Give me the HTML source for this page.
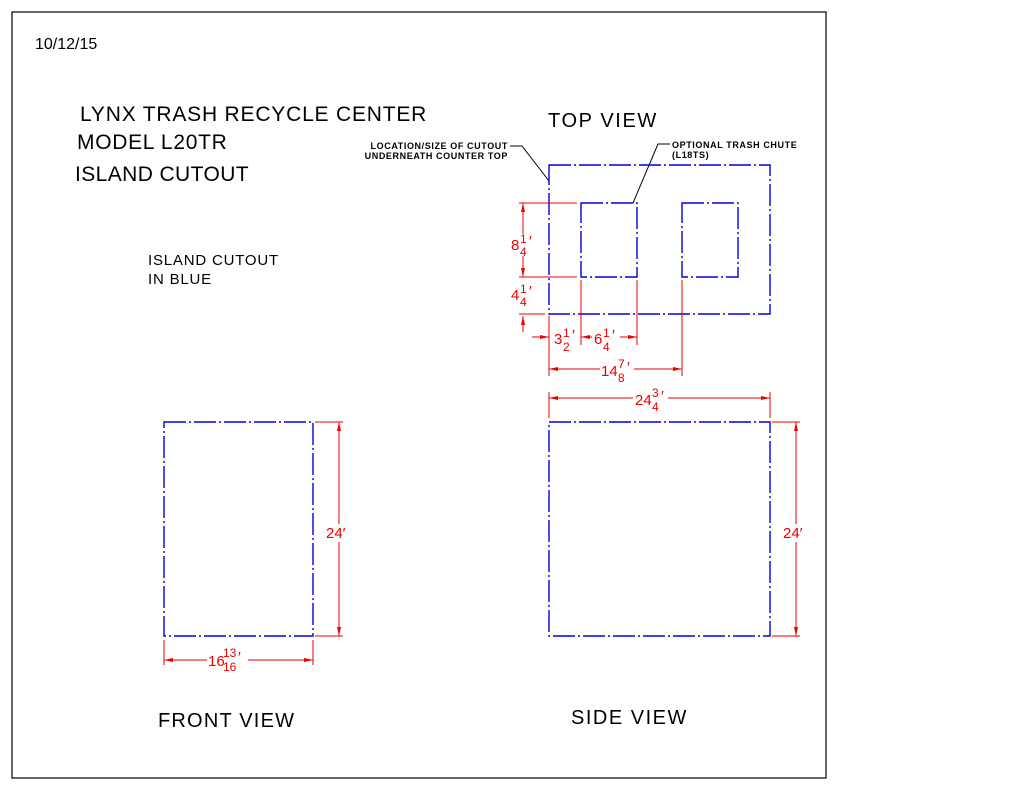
<!DOCTYPE html>
<html><head><style>html,body{margin:0;padding:0;background:#fff}svg{display:block}</style></head><body>
<svg width="1024" height="791" viewBox="0 0 1024 791" xmlns="http://www.w3.org/2000/svg" font-family="Liberation Sans, sans-serif">
<rect x="12" y="12" width="814" height="766" fill="none" stroke="#000" stroke-width="1.2"/>
<g fill="#000">
<text x="35" y="49" font-size="16">10/12/15</text>
<text x="80" y="121" font-size="21" letter-spacing="0.8">LYNX TRASH RECYCLE CENTER</text>
<text x="77" y="149" font-size="21" letter-spacing="0.7">MODEL L20TR</text>
<text x="75" y="181" font-size="21" letter-spacing="0.4">ISLAND CUTOUT</text>
<text x="148" y="265" font-size="15" letter-spacing="0.8">ISLAND CUTOUT</text>
<text x="148" y="284" font-size="15" letter-spacing="0.8">IN BLUE</text>
<text x="548" y="127" font-size="20" letter-spacing="1.6">TOP VIEW</text>
<text x="158" y="727" font-size="20" letter-spacing="1.2">FRONT VIEW</text>
<text x="571" y="724" font-size="20" letter-spacing="1.5">SIDE VIEW</text>
<text x="508" y="149" font-size="9" font-weight="bold" text-anchor="end" letter-spacing="0.6">LOCATION/SIZE OF CUTOUT</text>
<text x="508" y="159" font-size="9" font-weight="bold" text-anchor="end" letter-spacing="0.6">UNDERNEATH COUNTER TOP</text>
<text x="672" y="148" font-size="9" font-weight="bold" letter-spacing="0.6">OPTIONAL TRASH CHUTE</text>
<text x="672" y="158" font-size="9" font-weight="bold" letter-spacing="0.6">(L18TS)</text>
</g>
<g stroke="#000" fill="none" stroke-width="1">
<polyline points="510,146 522,146 549,181"/>
<polyline points="670,144 658,144 633,203"/>
</g>
<g stroke="#0000dd" fill="none" stroke-width="1.4" stroke-dasharray="22 3 2 3">
<rect x="549" y="165" width="221" height="149"/>
<rect x="581" y="203" width="56" height="74"/>
<rect x="682" y="203" width="56" height="74"/>
<rect x="549" y="422" width="221" height="214"/>
<rect x="164" y="422" width="149" height="214"/>
</g>
<g stroke="#e00" fill="none" stroke-width="1">
<line x1="519" y1="203" x2="577" y2="203"/>
<line x1="519" y1="277" x2="577" y2="277"/>
<line x1="519" y1="314" x2="545" y2="314"/>
<line x1="523" y1="203" x2="523" y2="234"/><line x1="523" y1="256" x2="523" y2="277"/>
<line x1="523" y1="316" x2="523" y2="332"/>
<line x1="549" y1="316" x2="549" y2="376"/>
<line x1="581" y1="280" x2="581" y2="345"/>
<line x1="637" y1="280" x2="637" y2="345"/>
<line x1="682" y1="280" x2="682" y2="376"/>
<line x1="532" y1="337" x2="549" y2="337"/>
<line x1="581" y1="337" x2="592" y2="337"/><line x1="620" y1="337" x2="637" y2="337"/>
<line x1="549" y1="369" x2="600" y2="369"/><line x1="634" y1="369" x2="682" y2="369"/>
<line x1="549" y1="392" x2="549" y2="418"/><line x1="770" y1="392" x2="770" y2="418"/>
<line x1="549" y1="398" x2="633" y2="398"/><line x1="668" y1="398" x2="770" y2="398"/>
<line x1="772" y1="422" x2="800" y2="422"/><line x1="772" y1="636" x2="800" y2="636"/>
<line x1="796" y1="422" x2="796" y2="524"/><line x1="796" y1="542" x2="796" y2="636"/>
<line x1="315" y1="422" x2="343" y2="422"/><line x1="315" y1="636" x2="343" y2="636"/>
<line x1="339" y1="422" x2="339" y2="524"/><line x1="339" y1="542" x2="339" y2="636"/>
<line x1="164" y1="640" x2="164" y2="665"/><line x1="313" y1="640" x2="313" y2="665"/>
<line x1="164" y1="660" x2="207" y2="660"/><line x1="248" y1="660" x2="313" y2="660"/>
</g>
<g fill="#e00">
<polygon points="523,203 521,212 525,212"/><polygon points="523,277 521,268 525,268"/>
<polygon points="523,316 521,325 525,325"/>
<polygon points="549,337 540,335 540,339"/><polygon points="581,337 590,335 590,339"/><polygon points="637,337 628,335 628,339"/>
<polygon points="549,369 558,367 558,371"/><polygon points="682,369 673,367 673,371"/>
<polygon points="549,398 558,396 558,400"/><polygon points="770,398 761,396 761,400"/>
<polygon points="796,422 794,431 798,431"/><polygon points="796,636 794,627 798,627"/>
<polygon points="339,422 337,431 341,431"/><polygon points="339,636 337,627 341,627"/>
<polygon points="164,660 173,658 173,662"/><polygon points="313,660 304,658 304,662"/>
</g>
<g fill="#e00" font-size="15">
<text x="511" y="250">8</text><text x="520" y="243" font-size="12">1</text><text x="520" y="256" font-size="12">4</text><text x="529" y="246">′</text>
<text x="511" y="300">4</text><text x="520" y="293" font-size="12">1</text><text x="520" y="306" font-size="12">4</text><text x="529" y="296">′</text>
<text x="554" y="344">3</text><text x="563" y="337" font-size="12">1</text><text x="563" y="351" font-size="12">2</text><text x="572" y="340">′</text>
<text x="594" y="344">6</text><text x="603" y="337" font-size="12">1</text><text x="603" y="351" font-size="12">4</text><text x="612" y="340">′</text>
<text x="601" y="376">14</text><text x="618" y="368" font-size="12">7</text><text x="618" y="382" font-size="12">8</text><text x="627" y="372">′</text>
<text x="635" y="405">24</text><text x="652" y="397" font-size="12">3</text><text x="652" y="411" font-size="12">4</text><text x="661" y="401">′</text>
<text x="783" y="538">24′</text>
<text x="326" y="538">24′</text>
<text x="208" y="666">16</text><text x="223" y="657" font-size="12">13</text><text x="223" y="671" font-size="12">16</text><text x="238" y="662">′</text>
</g>
</svg>
</body></html>
